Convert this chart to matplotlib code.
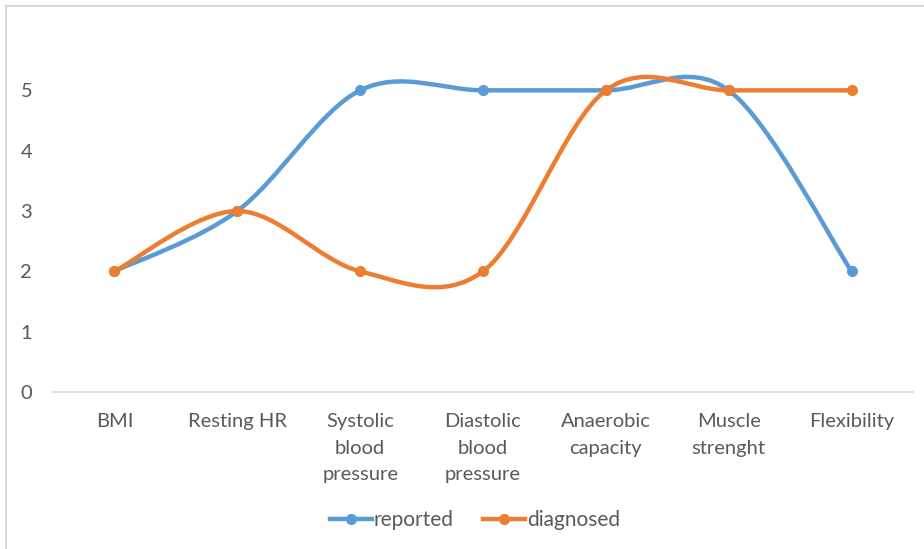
import numpy as np
import matplotlib.pyplot as plt
from matplotlib.path import Path
from matplotlib.patches import PathPatch, Rectangle
from matplotlib.lines import Line2D

plt.rcParams['font.family'] = ['Lato', 'DejaVu Sans']

categories = ['BMI', 'Resting HR', 'Systolic\nblood\npressure', 'Diastolic\nblood\npressure',
              'Anaerobic\ncapacity', 'Muscle\nstrenght', 'Flexibility']
reported = [2, 3, 5, 5, 5, 5, 2]
diagnosed = [2, 3, 2, 2, 5, 5, 5]

blue = '#5B9BD5'
orange = '#ED7D31'
text_color = '#595959'


def smooth_path(xs, ys):
    # Excel-like smoothed line: Catmull-Rom converted to cubic Bezier segments
    pts = np.column_stack([xs, ys]).astype(float)
    n = len(pts)
    verts = [pts[0]]
    codes = [Path.MOVETO]
    for i in range(n - 1):
        p0 = pts[max(i - 1, 0)]
        p1 = pts[i]
        p2 = pts[i + 1]
        p3 = pts[min(i + 2, n - 1)]
        c1 = p1 + (p2 - p0) / 6
        c2 = p2 - (p3 - p1) / 6
        verts += [c1, c2, p2]
        codes += [Path.CURVE4] * 3
    return Path(verts, codes)


fig = plt.figure(figsize=(9.24, 5.49), dpi=100)
ax = fig.add_axes([53 / 924, 1 - 392 / 549, 860 / 924, 362 / 549])

x = np.arange(len(categories))
for vals, col, name in [(reported, blue, 'reported'), (diagnosed, orange, 'diagnosed')]:
    ax.add_patch(PathPatch(smooth_path(x, vals), facecolor='none', edgecolor=col,
                           lw=3.2, capstyle='round', joinstyle='round', zorder=3))
    ax.plot(x, vals, linestyle='none', marker='o', ms=7, color=col, zorder=4)

ax.set_xlim(-0.5, len(categories) - 0.5)
ax.set_ylim(0, 6)
ax.set_yticks([0, 1, 2, 3, 4, 5])
ax.set_xticks(x)
ax.set_xticklabels(categories, linespacing=1.7, va='top')
ax.tick_params(axis='both', length=0, labelsize=14.5, labelcolor=text_color)
ax.tick_params(axis='y', pad=15)
ax.tick_params(axis='x', pad=15)
for s in ['top', 'right', 'left']:
    ax.spines[s].set_visible(False)
ax.spines['bottom'].set_color('#D9D9D9')
ax.spines['bottom'].set_linewidth(1.2)

handles = [Line2D([], [], color=blue, lw=3.2, marker='o', ms=7),
           Line2D([], [], color=orange, lw=3.2, marker='o', ms=7)]
fig.legend(handles, ['reported', 'diagnosed'], loc='center', bbox_to_anchor=(475 / 924, 1 - 520 / 549),
           ncol=2, frameon=False, fontsize=15, labelcolor=text_color, handlelength=2.0,
           handletextpad=0.1, columnspacing=1.4)

# outer chart border (only left and top visible in the crop)
fig.add_artist(Rectangle((6 / 924, -0.1), 1.2, 1 - 6 / 549 + 0.1, transform=fig.transFigure,
                         fill=False, edgecolor='#D9D9D9', lw=1.5))

fig.savefig('out.png', dpi=100)
